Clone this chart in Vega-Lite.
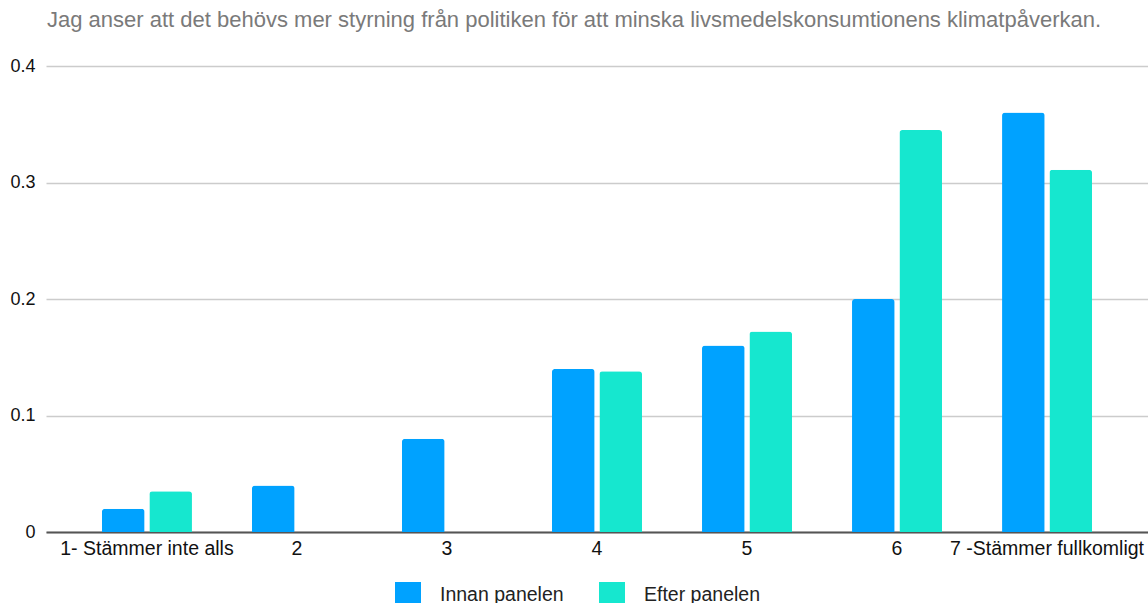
{
  "$schema": "https://vega.github.io/schema/vega-lite/v6.json",
  "width": 1102,
  "height": 466,
  "autosize": {"type": "none"},
  "padding": {"left": 46, "top": 66, "right": 0, "bottom": 71},
  "background": "white",
  "config": {
    "font": "Liberation Sans",
    "view": {"stroke": null}
  },
  "title": {
    "text": "Jag anser att det behövs mer styrning från politiken för att minska livsmedelskonsumtionens klimatpåverkan.",
    "anchor": "start",
    "frame": "group",
    "dx": 1,
    "baseline": "alphabetic",
    "offset": 8,
    "fontSize": 22,
    "fontWeight": "normal",
    "color": "#7a7a7a",
    "font": "Liberation Sans"
  },
  "data": {
    "values": [
      {"kategori": "1- Stämmer inte alls", "serie": "Innan panelen", "andel": 0.02},
      {"kategori": "1- Stämmer inte alls", "serie": "Efter panelen", "andel": 0.035},
      {"kategori": "2", "serie": "Innan panelen", "andel": 0.04},
      {"kategori": "2", "serie": "Efter panelen", "andel": 0},
      {"kategori": "3", "serie": "Innan panelen", "andel": 0.08},
      {"kategori": "3", "serie": "Efter panelen", "andel": 0},
      {"kategori": "4", "serie": "Innan panelen", "andel": 0.14},
      {"kategori": "4", "serie": "Efter panelen", "andel": 0.138},
      {"kategori": "5", "serie": "Innan panelen", "andel": 0.16},
      {"kategori": "5", "serie": "Efter panelen", "andel": 0.172},
      {"kategori": "6", "serie": "Innan panelen", "andel": 0.2},
      {"kategori": "6", "serie": "Efter panelen", "andel": 0.345},
      {"kategori": "7 -Stämmer fullkomligt", "serie": "Innan panelen", "andel": 0.36},
      {"kategori": "7 -Stämmer fullkomligt", "serie": "Efter panelen", "andel": 0.311}
    ]
  },
  "mark": {"type": "bar", "cornerRadiusTopLeft": 3, "cornerRadiusTopRight": 3},
  "encoding": {
    "x": {
      "field": "kategori",
      "type": "nominal",
      "sort": null,
      "scale": {"paddingInner": 0.4, "paddingOuter": 0.373},
      "axis": {
        "title": null,
        "labelAngle": 0,
        "labelFontSize": 19.5,
        "labelColor": "#111111",
        "labelPadding": 7,
        "labelOverlap": false,
        "labelFlush": false,
        "labelLimit": 400,
        "ticks": false,
        "domainColor": "#555555",
        "domainWidth": 2,
        "grid": false
      }
    },
    "xOffset": {
      "field": "serie",
      "type": "nominal",
      "sort": ["Innan panelen", "Efter panelen"],
      "scale": {"paddingInner": 0.1}
    },
    "y": {
      "field": "andel",
      "type": "quantitative",
      "scale": {"domain": [0, 0.4]},
      "axis": {
        "title": null,
        "values": [0, 0.1, 0.2, 0.3, 0.4],
        "format": ".1~f",
        "labelFontSize": 18,
        "labelColor": "#111111",
        "labelPadding": 11,
        "ticks": false,
        "domain": false,
        "gridColor": "#cccccc",
        "gridWidth": 1.5
      }
    },
    "color": {
      "field": "serie",
      "type": "nominal",
      "sort": ["Innan panelen", "Efter panelen"],
      "scale": {"domain": ["Innan panelen", "Efter panelen"], "range": ["#00A2FF", "#16E7CF"]},
      "legend": {
        "title": null,
        "orient": "none",
        "direction": "horizontal",
        "legendX": 349,
        "legendY": 516,
        "symbolType": "square",
        "symbolSize": 676,
        "symbolStrokeWidth": 0,
        "labelFontSize": 19.5,
        "labelColor": "#222222",
        "labelOffset": 19,
        "columnPadding": 35
      }
    }
  }
}
